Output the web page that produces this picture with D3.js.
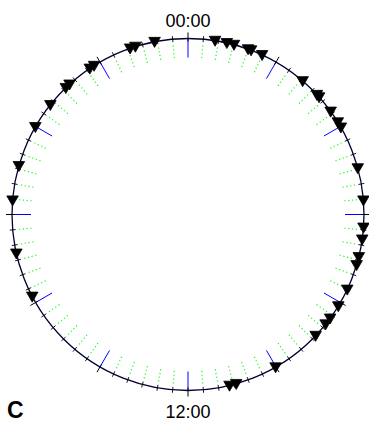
<!DOCTYPE html>
<html><head><meta charset="utf-8">
<script src="https://cdn.jsdelivr.net/npm/d3@7"></script>
<style>html,body{margin:0;padding:0;background:#fff;}svg{display:block;}</style>
</head><body>
<svg id="chart" width="369" height="428"></svg>
<script>
// Data: event times in hours (0-24)
const times = [0.59, 0.85, 1.01, 1.33, 1.40, 1.66, 2.71, 3.14, 3.21, 3.61, 3.89, 4.02,
  4.98, 5.69, 6.28, 6.54, 6.93, 7.11, 7.68, 8.09, 8.41, 8.57, 8.90, 10.01, 10.94, 11.09,
  16.15, 17.15, 18.31, 19.07, 19.99, 20.57, 21.07, 21.18, 21.74, 21.85, 22.72, 22.84, 23.27];
const tickHours = [0, 12];
const tickLabels = ["00:00", "12:00"];
const panelLabel = "C";

const svg = d3.select("#chart");
const cx = 188, cy = 214.5, R = 176;
const ang = d3.scaleLinear().domain([0, 24]).range([0, 2 * Math.PI]);
const px = (h, r) => cx + r * Math.sin(ang(h));
const py = (h, r) => cy - r * Math.cos(ang(h));

const minor = d3.range(0, 24, 1 / 3).filter(h => Math.abs(h / 2 - Math.round(h / 2)) > 1e-6);
const major = d3.range(0, 24, 2);

// green dotted radial lines
svg.append("g").selectAll("line").data(minor).join("line")
  .attr("x1", d => px(d, R * 0.892)).attr("y1", d => py(d, R * 0.892))
  .attr("x2", d => px(d, R * 0.968)).attr("y2", d => py(d, R * 0.968))
  .attr("stroke", "#00ff00").attr("stroke-width", 1.1).attr("stroke-dasharray", "1.2,2.6");

// blue major lines
svg.append("g").selectAll("line").data(major).join("line")
  .attr("x1", d => px(d, R)).attr("y1", d => py(d, R))
  .attr("x2", d => px(d, R - 19)).attr("y2", d => py(d, R - 19))
  .attr("stroke", "#0000ff").attr("stroke-width", 1);

// circle
svg.append("circle").attr("cx", cx).attr("cy", cy).attr("r", R)
  .attr("fill", "none").attr("stroke", "#000033").attr("stroke-width", 1.3);

// black minor ticks
svg.append("g").selectAll("line").data(minor).join("line")
  .attr("x1", d => px(d, R - 3)).attr("y1", d => py(d, R - 3))
  .attr("x2", d => px(d, R + 3)).attr("y2", d => py(d, R + 3))
  .attr("stroke", "#000").attr("stroke-width", 0.9);
// black major ticks
svg.append("g").selectAll("line").data(major).join("line")
  .attr("x1", d => px(d, R - 3)).attr("y1", d => py(d, R - 3))
  .attr("x2", d => px(d, R + 6)).attr("y2", d => py(d, R + 6))
  .attr("stroke", "#000").attr("stroke-width", 1);

// triangles
const tri = d3.symbol().type(d3.symbolTriangle).size(58);
svg.append("g").selectAll("path").data(times).join("path")
  .attr("d", tri)
  .attr("transform", d => `translate(${px(d, R)},${py(d, R) - 1}) rotate(180)`)
  .attr("fill", "#000").attr("stroke", "#000").attr("stroke-width", 0.8);

// labels
svg.append("text").attr("x", px(tickHours[0], 0)).attr("y", 26.7)
  .attr("text-anchor", "middle").attr("font-family", "Liberation Sans, Arial, sans-serif")
  .attr("font-size", 18).text(tickLabels[0]);
svg.append("text").attr("x", px(tickHours[1], 0)).attr("y", 418.3)
  .attr("text-anchor", "middle").attr("font-family", "Liberation Sans, Arial, sans-serif")
  .attr("font-size", 18).text(tickLabels[1]);
svg.append("text").attr("x", 7).attr("y", 417.5)
  .attr("font-family", "Liberation Sans, Arial, sans-serif").attr("font-weight", "bold")
  .attr("font-size", 23).text(panelLabel);
</script>
</body></html>
